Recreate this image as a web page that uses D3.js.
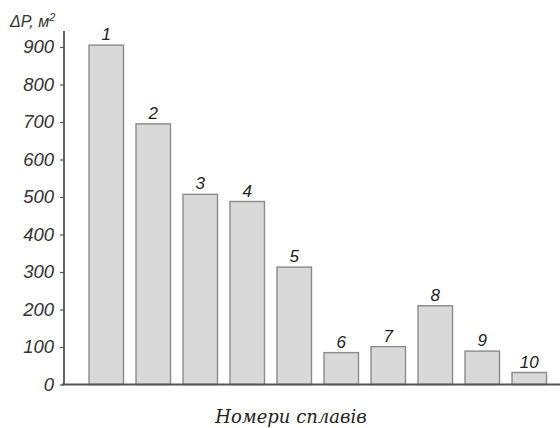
<!DOCTYPE html>
<html><head><meta charset="utf-8">
<script src="https://cdn.jsdelivr.net/npm/d3@7"></script>
<style>body{margin:0;background:#fff}svg{display:block}</style>
</head><body>
<svg id="c" width="560" height="428"></svg>
<script>
const categories = ["1","2","3","4","5","6","7","8","9","10"];
const values = [905, 695, 507, 488, 313, 85, 101, 210, 89, 32];
const yTicks = [0,100,200,300,400,500,600,700,800,900];
const yTitle = "ΔP, м";
const xTitle = "Номери сплавів";

const svg = d3.select("#c");
const x = d3.scaleBand().domain(categories).range([82.75, 552.75]).paddingInner(0.266).paddingOuter(0.133);
const y = d3.scaleLinear().domain([0, 900]).range([384.5, 47]);

// bars
svg.append("g").selectAll("rect").data(values).join("rect")
  .attr("x", (d,i) => x(categories[i]))
  .attr("y", d => y(d))
  .attr("width", x.bandwidth())
  .attr("height", d => y(0) - y(d))
  .attr("fill", "#d9d9d9")
  .attr("stroke", "#8a8a8a")
  .attr("stroke-width", 1.4);

// bar labels
svg.append("g").selectAll("text").data(values).join("text")
  .attr("x", (d,i) => x(categories[i]) + x.bandwidth()/2)
  .attr("y", d => y(d) - 5)
  .attr("text-anchor", "middle")
  .style("font-family", "'Liberation Sans', Arial, sans-serif")
  .style("font-style", "italic")
  .style("font-size", "17px")
  .attr("fill", "#222")
  .text((d,i) => categories[i]);

// y axis
const yAxis = d3.axisLeft(y).tickValues(yTicks).tickSize(4).tickPadding(6).tickFormat(d3.format("d"));
const gy = svg.append("g").attr("transform", "translate(64,0)").call(yAxis);
gy.select(".domain").remove();
gy.selectAll(".tick line").attr("stroke", "#555").attr("stroke-width", 1.2);
gy.selectAll(".tick text")
  .style("font-family", "'Liberation Sans', Arial, sans-serif")
  .style("font-style", "italic")
  .style("font-size", "18.5px")
  .attr("fill", "#333");
svg.append("line").attr("x1", 64).attr("x2", 64).attr("y1", 31).attr("y2", y(0))
  .attr("stroke", "#555").attr("stroke-width", 1.8);

// x axis line
svg.append("line").attr("x1", 62).attr("x2", 560).attr("y1", y(0)).attr("y2", y(0))
  .attr("stroke", "#555").attr("stroke-width", 2);

// y title
const yt = svg.append("text").attr("x", 10).attr("y", 27)
  .style("font-family", "'Liberation Sans', Arial, sans-serif")
  .style("font-style", "italic")
  .style("font-size", "16px")
  .attr("fill", "#333");
yt.append("tspan").text(yTitle);
yt.append("tspan").attr("dy", -6).style("font-size", "11px").text("2");

// x title
svg.append("text").attr("x", 291).attr("y", 423)
  .attr("text-anchor", "middle")
  .style("font-family", "'DejaVu Serif', serif")
  .style("font-style", "italic")
  .style("font-size", "18px")
  .attr("fill", "#222")
  .text(xTitle);
</script>
</body></html>
